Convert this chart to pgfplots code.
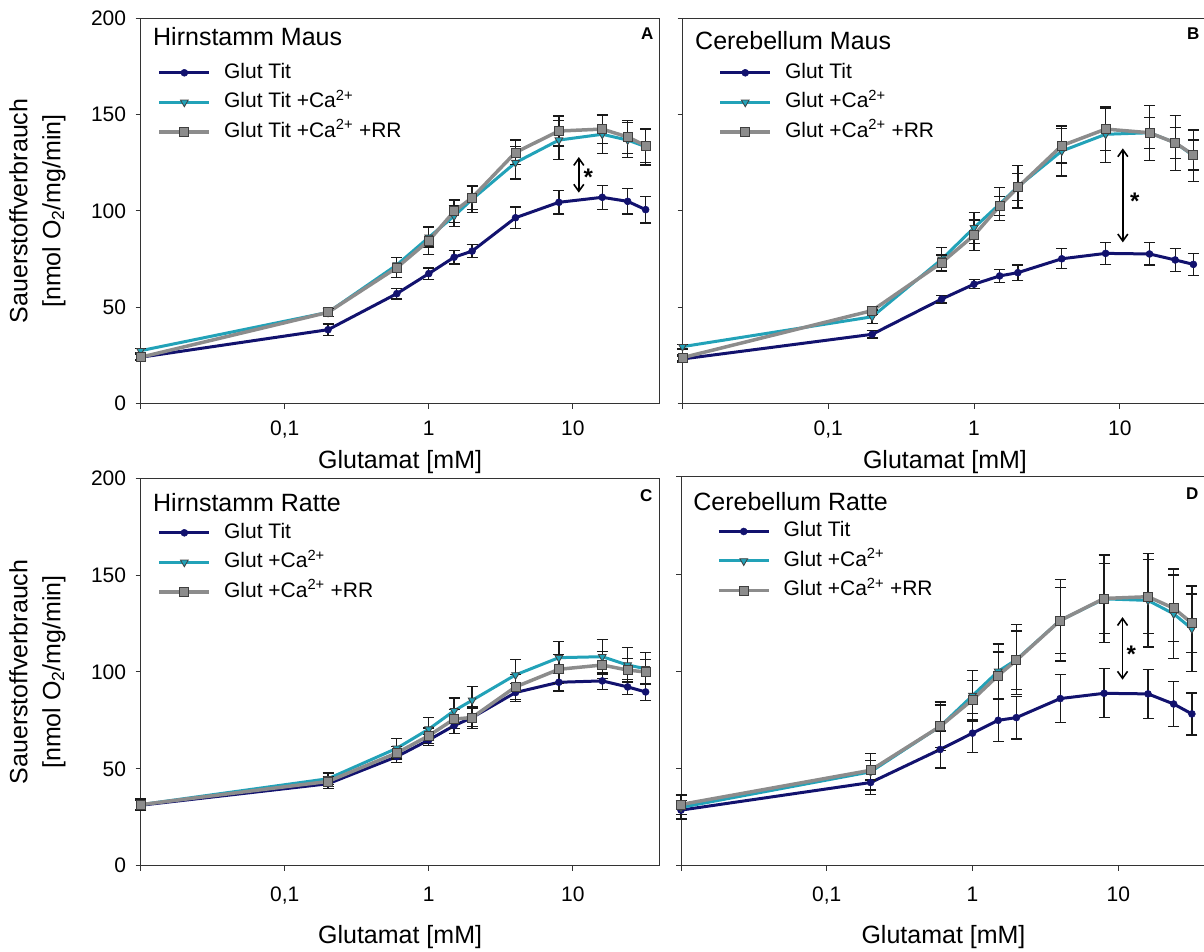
\documentclass[border=0pt]{standalone}
\usepackage{fontspec}
\setmainfont{Liberation Sans}
\usepackage{pgfplots}
\usepackage{pgfplotstable}
\pgfplotsset{compat=1.18}
\usetikzlibrary{arrows.meta}

\definecolor{cTit}{HTML}{12126E}
\definecolor{cCa}{HTML}{22A2B8}
\definecolor{cRR}{HTML}{8C8C8C}
\definecolor{cAx}{HTML}{333333}

\pgfplotstableread{
x tit etit ca eca rr err
0.01 24.1 1.5 27.5 1.2 24.1 1.5
0.2 38.4 3.0 47.4 2.0 47.4 2.0
0.6 57.1 2.8 72.0 4.0 70.6 5.2
1 67.5 2.9 86.3 5.0 84.6 7.3
1.5 76.0 3.5 97.4 5.5 99.8 5.9
2 79.2 3.5 106.1 7.0 106.9 6.0
4 96.5 5.6 125.1 8.5 130.4 6.4
8 104.5 6.0 136.8 10.0 141.5 7.8
16 107.1 6.2 139.8 10.0 142.5 7.3
24 105.0 6.5 136.8 9.0 138.4 8.7
32 100.7 7.0 133.4 9.5 133.9 8.7
}\dataA

\pgfplotstableread{
x tit etit ca eca rr err
0.01 23.2 1.5 29.6 1.2 23.9 1.5
0.2 36.0 1.9 45.1 3.5 48.3 2.0
0.6 54.3 2.0 74.9 6.0 73.2 4.0
1 62.0 2.4 91.3 8.0 87.4 8.0
1.5 66.3 3.5 103.6 8.7 102.6 5.0
2 68.0 4.0 112.6 11.0 112.3 7.0
4 75.2 5.2 131.1 13.0 133.9 9.0
8 78.0 5.8 139.8 14.5 142.5 11.0
16 77.7 5.8 140.6 14.3 140.6 8.0
24 74.6 6.1 135.4 14.3 135.4 8.0
32 72.3 5.6 128.7 13.4 129.1 7.8
}\dataB

\pgfplotstableread{
x tit etit ca eca rr err
0.01 31.2 2.5 31.5 3.0 31.5 2.5
0.2 42.3 2.5 44.9 3.0 43.5 2.5
0.6 56.3 3.0 60.6 5.0 58.2 3.5
1 64.9 3.0 70.5 6.0 67.1 4.0
1.5 72.3 4.0 80.0 6.5 75.7 5.0
2 76.5 4.5 85.4 7.0 76.5 5.5
4 89.4 4.5 98.5 8.0 92.3 6.5
8 94.7 4.5 107.4 8.2 101.4 7.5
16 95.4 4.5 107.9 8.9 103.6 7.0
24 92.3 4.0 103.6 8.9 101.0 6.0
32 89.7 4.5 101.7 8.2 100.0 6.5
}\dataC

\pgfplotstableread{
x tit etit ca eca rr err
0.01 28.6 5.0 30.0 6.0 31.5 5.0
0.2 42.8 6.0 48.3 9.4 49.1 5.0
0.6 59.8 9.5 71.7 12.5 71.7 11.0
1 68.2 10.0 87.5 13.0 85.4 10.0
1.5 74.8 11.0 100.0 14.0 97.9 12.0
2 76.2 11.0 106.0 18.0 105.7 15.0
4 86.0 12.3 126.2 20.9 126.2 17.1
8 88.7 12.6 137.3 22.5 137.5 18.0
16 88.4 12.7 136.5 24.0 138.4 19.0
24 83.2 11.5 129.6 23.0 132.5 17.0
32 78.1 10.8 121.9 22.0 124.8 15.0
}\dataD

\pgfplotsset{
  every axis/.append style={
    scale only axis, xmode=log, xmin=0.01, xmax=40, ymin=0, ymax=200,
    xtick={0.01,0.1,1,10}, xticklabels={,{0,1},1,10}, xminorticks=false,
    ytick={0,50,100,150,200},
    tick align=outside, xtick pos=bottom, ytick pos=left,
    major tick length=5pt,
    axis line style={line width=1pt, cAx},
    every tick/.style={line width=1pt, cAx},
    ticklabel style={font=\fontsize{21}{21}\selectfont},
    xticklabel style={yshift=-9pt},
    yticklabel style={xshift=-6pt},
    label style={font=\fontsize{25}{30}\selectfont},
    clip=false,
    legend cell align=left,
    legend style={draw=none, fill=none, inner sep=0pt, outer sep=0pt,
       font=\fontsize{21}{21}\selectfont,
       row sep=10.5pt, column sep=13pt,
       nodes={inner sep=0pt, text height=15pt, text depth=4pt},
       at={(axis description cs:0,1)}, anchor=north west, xshift=17pt, yshift=-45pt},
    legend image code/.code={\draw[mark repeat=2,mark phase=2] plot coordinates {(0pt,0pt)(25pt,0pt)(50pt,0pt)};},
  },
  every axis plot/.append style={
    error bars/y dir=both, error bars/y explicit,
    error bars/error bar style={line width=1.3pt, black!90},
    error bars/error mark options={rotate=90, mark size=5.5pt, line width=1.3pt, black!90},
  },
}
\tikzset{
  tit/.style={color=cTit, line width=3pt, mark=*, mark size=3.5pt, mark options={fill=cTit, line width=0.5pt}},
  ca/.style={color=cCa, line width=3pt, mark=triangle*, mark size=4.5pt, mark options={rotate=180, fill=cCa, draw=black!75, line width=0.8pt}},
  rr/.style={color=cRR, line width=3.5pt, mark=square*, mark size=4.5pt, mark options={fill=cRR, draw=black!75, line width=0.8pt}},
  ttl/.style={anchor=base west, font=\fontsize{25}{25}\selectfont, inner sep=0pt},
  letter/.style={anchor=base east, font=\fontsize{17}{17}\selectfont\bfseries, inner sep=0pt},
  star/.style={font=\fontsize{24}{24}\selectfont\bfseries, yshift=-5pt},
  arr/.style={{Straight Barb[length=7pt,width=10pt]}-{Straight Barb[length=7pt,width=10pt]}, line width=1.6pt, black},
}

\begin{document}
\begin{tikzpicture}
\path[use as bounding box] (0,0) rectangle (1204pt,952pt);

% Panel A
\begin{axis}[at={(140.6pt,548.3pt)}, anchor=south west, width=519pt, height=385.4pt,
  yticklabels={0,50,100,150,200},
  xlabel={Glutamat [mM]}, xlabel style={at={(axis description cs:0.5,-0.1513)}, anchor=center},
  ylabel={Sauerstoffverbrauch\\[3pt]{}[nmol O\textsubscript{2}/mg/min]},
  ylabel style={align=center, at={(axis description cs:-0.199,0.5)}, anchor=center}]
\addplot[tit] table[x=x, y=tit, y error=etit] {\dataA};
\addlegendentry{Glut Tit}
\addplot[ca] table[x=x, y=ca, y error=eca] {\dataA};
\addlegendentry{Glut Tit +Ca\textsuperscript{2+}}
\addplot[rr] table[x=x, y=rr, y error=err] {\dataA};
\addlegendentry{Glut Tit +Ca\textsuperscript{2+} +RR}
\node[ttl, xshift=12.4pt, yshift=-27.7pt] at (axis description cs:0,1) {Hirnstamm Maus};
\node[letter, xshift=-6pt, yshift=-21.7pt] at (axis description cs:1,1) {A};
\draw[arr] (axis cs:11,128) -- (axis cs:11,109.5);
\node[star] at (axis cs:12.8,120) {*};
\end{axis}

% Panel B
\begin{axis}[at={(682.5pt,548.3pt)}, anchor=south west, width=525pt, height=385.4pt,
  yticklabels={,,,,},
  xlabel={Glutamat [mM]}, xlabel style={at={(axis description cs:0.5,-0.1513)}, anchor=center},
  legend style={xshift=19pt}]
\addplot[tit] table[x=x, y=tit, y error=etit] {\dataB};
\addlegendentry{Glut Tit}
\addplot[ca] table[x=x, y=ca, y error=eca] {\dataB};
\addlegendentry{Glut +Ca\textsuperscript{2+}}
\addplot[rr] table[x=x, y=rr, y error=err] {\dataB};
\addlegendentry{Glut +Ca\textsuperscript{2+} +RR}
\node[ttl, xshift=12.5pt, yshift=-31pt] at (axis description cs:0,1) {Cerebellum Maus};
\node[letter, xshift=-8pt, yshift=-21.7pt] at (axis description cs:1,1) {B};
\draw[arr] (axis cs:10.5,132.5) -- (axis cs:10.5,83.7);
\node[star] at (axis cs:12.7,107.8) {*};
\end{axis}

% Panel C
\begin{axis}[at={(140.6pt,86.3pt)}, anchor=south west, width=519pt, height=387.4pt,
  yticklabels={0,50,100,150,200},
  xticklabel style={yshift=-4pt},
  xlabel={Glutamat [mM]}, xlabel style={at={(axis description cs:0.5,-0.183)}, anchor=center},
  ylabel={Sauerstoffverbrauch\\[3pt]{}[nmol O\textsubscript{2}/mg/min]},
  ylabel style={align=center, at={(axis description cs:-0.199,0.5)}, anchor=center}]
\addplot[tit] table[x=x, y=tit, y error=etit] {\dataC};
\addlegendentry{Glut Tit}
\addplot[ca] table[x=x, y=ca, y error=eca] {\dataC};
\addlegendentry{Glut +Ca\textsuperscript{2+}}
\addplot[rr] table[x=x, y=rr, y error=err] {\dataC};
\addlegendentry{Glut +Ca\textsuperscript{2+} +RR}
\node[ttl, xshift=12.4pt, yshift=-33.4pt] at (axis description cs:0,1) {Hirnstamm Ratte};
\node[letter, xshift=-7pt, yshift=-23.4pt] at (axis description cs:1,1) {C};
\end{axis}

% Panel D
\begin{axis}[at={(681pt,86.3pt)}, anchor=south west, width=525pt, height=388.7pt,
  yticklabels={,,,,},
  xticklabel style={yshift=-4pt},
  xlabel={Glutamat [mM]}, xlabel style={at={(axis description cs:0.5,-0.183)}, anchor=center},
  legend style={xshift=19pt}]
\addplot[tit] table[x=x, y=tit, y error=etit] {\dataD};
\addlegendentry{Glut Tit}
\addplot[ca] table[x=x, y=ca, y error=eca] {\dataD};
\addlegendentry{Glut +Ca\textsuperscript{2+}}
\addplot[rr] table[x=x, y=rr, y error=err] {\dataD};
\addlegendentry{Glut +Ca\textsuperscript{2+} +RR}
\node[ttl, xshift=12.2pt, yshift=-33.7pt] at (axis description cs:0,1) {Cerebellum Ratte};
\node[letter, xshift=-7.5pt, yshift=-23pt] at (axis description cs:1,1) {D};
\draw[arr] (axis cs:10.7,127.9) -- (axis cs:10.7,95.7);
\node[star] at (axis cs:12.3,111.6) {*};
\end{axis}
\end{tikzpicture}
\end{document}
